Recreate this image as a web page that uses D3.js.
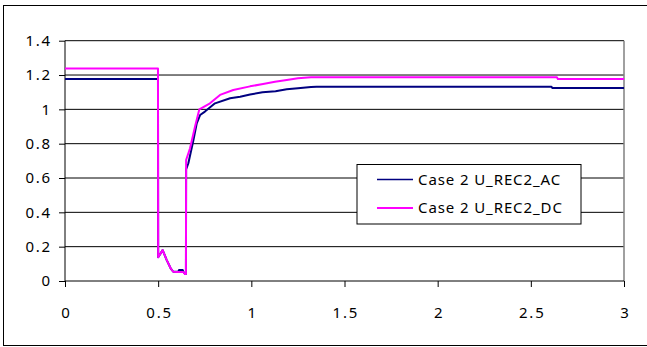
<!DOCTYPE html>
<html>
<head>
<meta charset="utf-8">
<script src="https://cdn.jsdelivr.net/npm/d3@7"></script>
<style>
  html, body { margin: 0; padding: 0; background: #fff; }
  svg { display: block; font-family: "Noto Sans", "Open Sans", sans-serif; }
</style>
</head>
<body>
<svg id="chart" width="647" height="347"></svg>
<script>
// Time axis (s) and voltage samples for the two recorded signals
const timeAC = [0, 0.499, 0.5, 0.524, 0.546, 0.567, 0.581, 0.608, 0.612, 0.632, 0.635, 0.644, 0.649, 0.65, 0.662, 0.689, 0.707, 0.725, 0.751, 0.805, 0.886, 0.94, 0.993, 1.06, 1.13, 1.19, 1.25, 1.32, 1.35, 2.61, 2.615, 3];
const valuesAC = [1.177, 1.177, 0.138, 0.18, 0.122, 0.074, 0.054, 0.054, 0.064, 0.064, 0.054, 0.041, 0.041, 0.65, 0.686, 0.82, 0.919, 0.967, 0.987, 1.035, 1.065, 1.074, 1.086, 1.1, 1.106, 1.117, 1.123, 1.13, 1.132, 1.132, 1.125, 1.125];

const timeDC = [0, 0.499, 0.5, 0.524, 0.546, 0.567, 0.581, 0.608, 0.635, 0.644, 0.649, 0.65, 0.671, 0.698, 0.721, 0.778, 0.832, 0.903, 0.993, 1.063, 1.127, 1.19, 1.25, 1.32, 2.64, 2.645, 3];
const valuesDC = [1.238, 1.238, 0.138, 0.18, 0.122, 0.074, 0.054, 0.052, 0.052, 0.041, 0.041, 0.705, 0.773, 0.9, 1.0, 1.035, 1.084, 1.113, 1.134, 1.148, 1.161, 1.171, 1.181, 1.187, 1.187, 1.177, 1.177];

const seriesNames = ["Case 2 U_REC2_AC", "Case 2 U_REC2_DC"];
const seriesColors = ["#000080", "#ff00ff"];

const xTicks = [0, 0.5, 1, 1.5, 2, 2.5, 3];
const yTicks = [0, 0.2, 0.4, 0.6, 0.8, 1, 1.2, 1.4];

const svg = d3.select("#chart");

// Outer chart frame
svg.append("rect")
  .attr("x", 3.5).attr("y", 5.5)
  .attr("width", 660).attr("height", 340)
  .attr("fill", "none").attr("stroke", "#000").attr("stroke-width", 1);

const plot = { left: 65, right: 624, top: 40.7, bottom: 281 };

const x = d3.scaleLinear().domain([0, 3]).range([plot.left, plot.right]);
const y = d3.scaleLinear().domain([0, 1.4]).range([plot.bottom, plot.top]);

// Horizontal gridlines
svg.append("g")
  .selectAll("line")
  .data(yTicks.filter(d => d > 0))
  .join("line")
  .attr("x1", plot.left).attr("x2", plot.right)
  .attr("y1", d => y(d)).attr("y2", d => y(d))
  .attr("stroke", "#000").attr("stroke-width", 1);

// Plot area right edge
svg.append("line")
  .attr("x1", plot.right).attr("x2", plot.right)
  .attr("y1", plot.top).attr("y2", plot.bottom)
  .attr("stroke", "#808080").attr("stroke-width", 1.5);

// Axes
const fmt = d => String(d);
const yAxis = d3.axisLeft(y).tickValues(yTicks).tickFormat(fmt).tickSize(6).tickPadding(7);
const xAxis = d3.axisBottom(x).tickValues(xTicks).tickFormat(fmt).tickSize(6).tickPadding(20);

const gy = svg.append("g").attr("transform", `translate(${plot.left},0)`).call(yAxis);
const gx = svg.append("g").attr("transform", `translate(0,${plot.bottom})`).call(xAxis);

[gx, gy].forEach(g => {
  g.select(".domain").remove();
  g.selectAll(".tick line").attr("stroke", "#000");
  g.selectAll(".tick text").attr("fill", "#000")
    .style("font-size", "15px")
    .style("letter-spacing", "1.8px")
    .style("font-family", "'Noto Sans', 'Open Sans', sans-serif");
});
// compensate trailing letter-spacing on centred x labels
gx.selectAll(".tick text").attr("dx", "0.9px");

svg.append("line")
  .attr("x1", plot.left).attr("x2", plot.left)
  .attr("y1", plot.top).attr("y2", plot.bottom)
  .attr("stroke", "#000");
svg.append("line")
  .attr("x1", plot.left).attr("x2", plot.right)
  .attr("y1", plot.bottom).attr("y2", plot.bottom)
  .attr("stroke", "#000");

// Data lines
const line = d3.line().x(d => x(d[0])).y(d => y(d[1]));
const seriesData = [
  d3.zip(timeAC, valuesAC),
  d3.zip(timeDC, valuesDC)
];
svg.append("g")
  .selectAll("path")
  .data(seriesData)
  .join("path")
  .attr("d", line)
  .attr("fill", "none")
  .attr("stroke", (d, i) => seriesColors[i])
  .attr("stroke-width", 2)
  .attr("stroke-linejoin", "round");

// Legend
const legend = svg.append("g").attr("transform", "translate(357,164.5)");
legend.append("rect")
  .attr("width", 224).attr("height", 59.5)
  .attr("fill", "#fff").attr("stroke", "#000").attr("stroke-width", 1);
const rows = legend.selectAll("g.row")
  .data(seriesNames)
  .join("g")
  .attr("class", "row")
  .attr("transform", (d, i) => `translate(0,${15 + i * 28.4})`);
rows.append("line")
  .attr("x1", 20).attr("x2", 56)
  .attr("stroke", (d, i) => seriesColors[i])
  .attr("stroke-width", (d, i) => i === 0 ? 1.5 : 2);
rows.append("text")
  .attr("x", 61).attr("dy", "0.35em")
  .style("font-size", "15px")
  .style("letter-spacing", "0.9px")
  .attr("fill", "#000")
  .text(d => d);
</script>
</body>
</html>
